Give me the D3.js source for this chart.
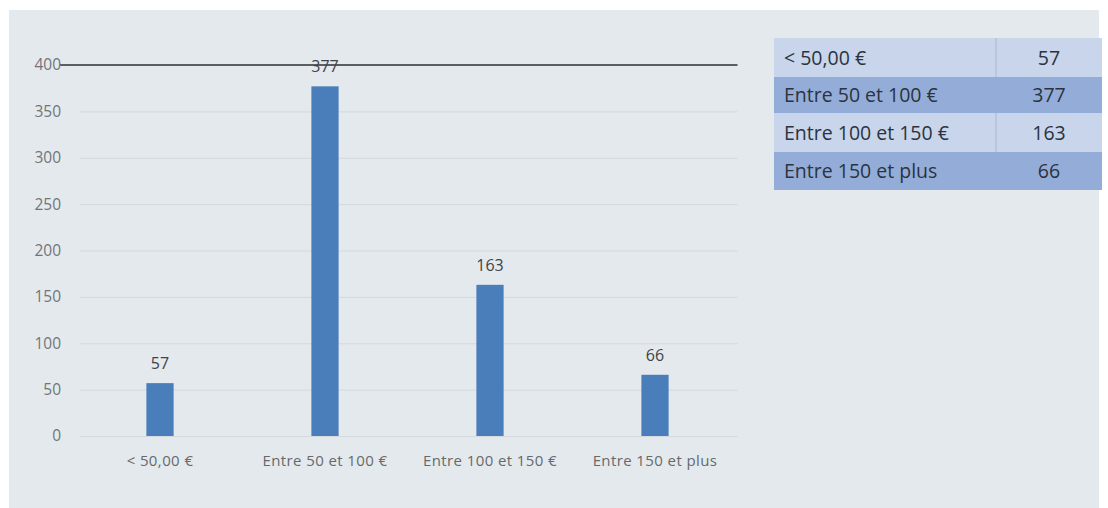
<!DOCTYPE html>
<html>
<head>
<meta charset="utf-8">
<script src="https://cdn.jsdelivr.net/npm/d3@7"></script>
<style>
  body { margin: 0; background: #fff; }
  text { font-family: "Open Sans", "Liberation Sans", sans-serif; }
</style>
</head>
<body>
<div id="content"></div>
<script>
// data
var categories = ["< 50,00 €", "Entre 50 et 100 €", "Entre 100 et 150 €", "Entre 150 et plus"];
var counts = [57, 377, 163, 66];
var yTicks = [0, 50, 100, 150, 200, 250, 300, 350, 400];

var W = 1108, H = 508;
var x0 = 77.5, x1 = 737.5, yTop = 65, yBot = 436;

var svg = d3.select("#content").append("svg")
    .attr("width", W)
    .attr("height", H);

// panel background
svg.append("rect")
    .attr("x", 9).attr("y", 10)
    .attr("width", 1090).attr("height", H - 10)
    .attr("fill", "#e4e9ed");

// inner padding keeps the bars thin, outer = half of it so the bars sit in the middle of each slot
var xScale = d3.scaleBand().domain(categories).range([x0, x1])
        .paddingInner(0.835).paddingOuter(0.4175),
    yScale = d3.scaleLinear().domain([0, 400]).range([yBot, yTop]);

// gridlines
svg.append("g")
    .selectAll("line")
    .data(yTicks.filter(function(d) { return d < 400; }))
    .enter().append("line")
    .attr("x1", 80).attr("x2", x1)
    .attr("y1", function(d) { return yScale(d) + 0.5; })
    .attr("y2", function(d) { return yScale(d) + 0.5; })
    .attr("stroke", "#d3d8dc")
    .attr("stroke-width", 1);

// dark line at 400
svg.append("line")
    .attr("x1", 60).attr("x2", x1)
    .attr("y1", yScale(400)).attr("y2", yScale(400))
    .attr("stroke", "#5a5e60")
    .attr("stroke-width", 2);

// y axis labels
var yAxis = d3.axisLeft(yScale).tickValues(yTicks).tickSize(0).tickPadding(0);
var gy = svg.append("g")
    .attr("transform", "translate(61,0)")
    .call(yAxis);
gy.select(".domain").remove();
gy.selectAll("text")
    .attr("fill", "#727578")
    .style("font-size", "15.5px");

// x axis labels
var xAxis = d3.axisBottom(xScale).tickSize(0).tickPadding(0);
var gx = svg.append("g")
    .attr("transform", "translate(0,455)")
    .call(xAxis);
gx.select(".domain").remove();
gx.selectAll("text")
    .attr("fill", "#66696b")
    .style("font-size", "15px")
    .style("letter-spacing", "0.4px");

// bars
svg.append("g")
    .selectAll("rect")
    .data(counts)
    .enter().append("rect")
    .attr("x", function(d, i) { return xScale(categories[i]); })
    .attr("y", function(d) { return yScale(d); })
    .attr("width", xScale.bandwidth())
    .attr("height", function(d) { return yBot - yScale(d); })
    .attr("fill", "#4a7ebb");

// value labels
svg.append("g")
    .selectAll("text")
    .data(counts)
    .enter().append("text")
    .attr("x", function(d, i) { return xScale(categories[i]) + xScale.bandwidth() / 2; })
    .attr("y", function(d) { return yScale(d) - 14; })
    .attr("text-anchor", "middle")
    .attr("fill", "#404345")
    .style("font-size", "16px")
    .text(function(d) { return d; });

// summary table
var tx = 774, tw = 328, colX = 996, rowTops = [38, 77, 113, 152, 190];
var rows = svg.append("g").selectAll("g")
    .data(counts)
    .enter().append("g");

rows.append("rect")
    .attr("x", tx)
    .attr("y", function(d, i) { return rowTops[i]; })
    .attr("width", tw)
    .attr("height", function(d, i) { return rowTops[i + 1] - rowTops[i]; })
    .attr("fill", function(d, i) { return i % 2 ? "#94add8" : "#c8d5ea"; });

rows.filter(function(d, i) { return i % 2 === 0; })
    .append("line")
    .attr("x1", colX).attr("x2", colX)
    .attr("y1", function(d, i) { return rowTops[i * 2]; })
    .attr("y2", function(d, i) { return rowTops[i * 2 + 1]; })
    .attr("stroke", "#aab9d0");

rows.append("text")
    .attr("x", tx + 10)
    .attr("y", function(d, i) { return (rowTops[i] + rowTops[i + 1]) / 2 + 7; })
    .attr("fill", "#2b3340")
    .style("font-size", "19.5px")
    .text(function(d, i) { return categories[i]; });

rows.append("text")
    .attr("x", (colX + tx + tw) / 2)
    .attr("y", function(d, i) { return (rowTops[i] + rowTops[i + 1]) / 2 + 7; })
    .attr("text-anchor", "middle")
    .attr("fill", "#2b3340")
    .style("font-size", "19.5px")
    .text(function(d) { return d; });
</script>
</body>
</html>
